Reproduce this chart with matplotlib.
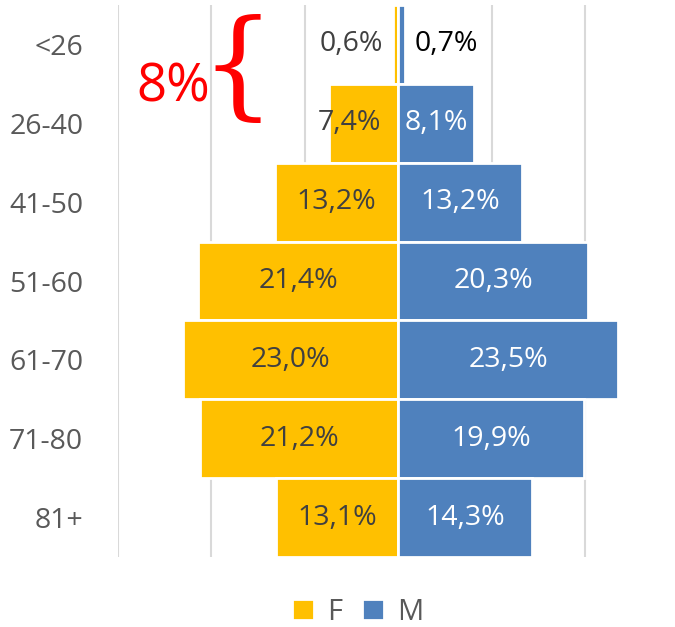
import matplotlib.pyplot as plt

# age groups, top to bottom
groups = ['<26', '26-40', '41-50', '51-60', '61-70', '71-80', '81+']
female = [0.6, 7.4, 13.2, 21.4, 23.0, 21.2, 13.1]
male = [0.7, 8.1, 13.2, 20.3, 23.5, 19.9, 14.3]

gold = '#FFC000'
blue = '#4F81BD'
font = ['Open Sans', 'DejaVu Sans']
plt.rcParams['font.family'] = font

fig = plt.figure(figsize=(6.75, 6.27), dpi=100)
ax = fig.add_axes([118 / 675, 1 - 557 / 627, 557 / 675, 552 / 627])

y = list(range(len(groups)))
ax.barh(y, [-v for v in female], height=1.0, color=gold, edgecolor='white', linewidth=2, label='F', zorder=3)
ax.barh(y, male, height=1.0, color=blue, edgecolor='white', linewidth=2, label='M', zorder=3)

# data labels
fs = 20.5
for i, (f, m) in enumerate(zip(female, male)):
    ft = f'{f:.1f}%'.replace('.', ',')
    mt = f'{m:.1f}%'.replace('.', ',')
    if f < 2:
        ax.text(-f - 1, i, ft, ha='right', va='center', fontsize=fs, color='#404040', zorder=4)
        ax.text(m + 1, i, mt, ha='left', va='center', fontsize=fs, color='black', zorder=4)
    else:
        fx = -f / 2 if f > 10 else -f / 2 - 1.5
        ax.text(fx, i, ft, ha='center', va='center', fontsize=fs, color='#404040', zorder=4)
        ax.text(m / 2, i, mt, ha='center', va='center', fontsize=fs, color='white', zorder=4)

ax.set_xlim(-30, 29.6)
ax.set_ylim(len(groups) - 0.5, -0.5)
ax.set_xticks([-30, -20, -10, 0, 10, 20])
ax.xaxis.grid(True, color='#D9D9D9', linewidth=1.5, zorder=0)
ax.tick_params(axis='x', bottom=False, labelbottom=False)
ax.set_yticks(y)
ax.set_yticklabels(groups, fontsize=20.5, color='#595959')
ax.tick_params(axis='y', left=False, pad=21.5)
for s in ax.spines.values():
    s.set_visible(False)

# annotation
fig.text(173 / 675, 1 - 88 / 627, '8%', color='red', fontsize=38, ha='center', va='center')
fig.text(238 / 675, 1 - 72 / 627, '{', color='red', fontsize=84, ha='center', va='center',
         family=['DejaVu Serif'])

leg = fig.legend(loc='center', bbox_to_anchor=(0.53, 1 - 612 / 627), ncol=2, frameon=False,
                 fontsize=21, handlelength=0.75, handleheight=0.75, handletextpad=0.45, columnspacing=0.7,
                 labelcolor='#595959')

fig.savefig('out.png', dpi=100)
